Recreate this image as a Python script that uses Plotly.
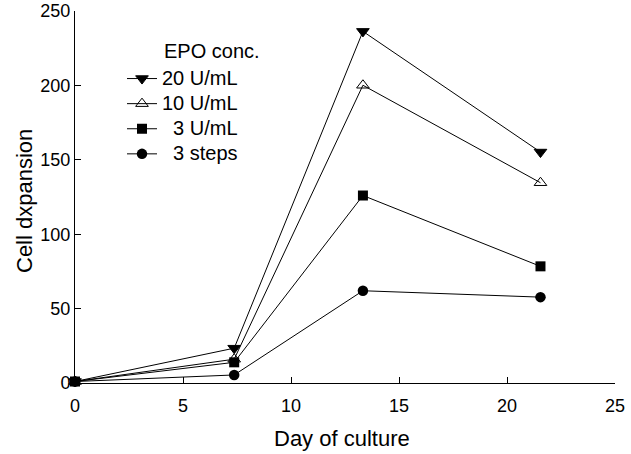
import plotly.graph_objects as go

days = [0, 7.37, 13.33, 21.55]
epo20 = [1, 23.4, 236.3, 155.2]
epo10 = [1, 16.0, 200.1, 134.6]
epo3 = [1, 13.9, 126.0, 78.4]
steps3 = [1, 5.4, 62.0, 57.7]

series_names = ["20 U/mL", "10 U/mL", "\u20073 U/mL", "\u20073 steps"]
x_ticks = [0, 5, 10, 15, 20, 25]
y_ticks = [0, 50, 100, 150, 200, 250]

FONT = "Liberation Sans, Arial, Helvetica, sans-serif"

styles = [
    dict(symbol="triangle-down", size=11, color="black", line=dict(color="black", width=1)),
    dict(symbol="triangle-up-open", size=11, color="black", line=dict(color="black", width=1)),
    dict(symbol="square", size=10, color="black", line=dict(color="black", width=0)),
    dict(symbol="circle", size=10.5, color="black", line=dict(color="black", width=0)),
]

fig = go.Figure()
for name, vals, mk in zip(series_names, [epo20, epo10, epo3, steps3], styles):
    fig.add_trace(go.Scatter(
        x=days, y=vals,
        name='<span style="font-size:20px">' + name + '</span>',
        mode="lines+markers",
        line=dict(color="black", width=1),
        marker=mk, cliponaxis=False,
    ))

W, H = 631, 454
ml, mr, mt, mb = 75, 16, 11, 71
pw, ph = W - ml - mr, H - mt - mb

def px_x(p):
    return (p - ml) / pw

def px_y(p):
    return (H - mb - p) / ph

fig.update_layout(
    width=W, height=H,
    margin=dict(l=ml, r=mr, t=mt, b=mb, pad=0, autoexpand=False),
    paper_bgcolor="white", plot_bgcolor="white",
    font=dict(family=FONT, size=18, color="black"),
    showlegend=True,
    legend=dict(
        x=px_x(122), y=px_y(61), xanchor="left", yanchor="top",
        bgcolor="rgba(0,0,0,0)", font=dict(size=17, family=FONT),
        tracegroupgap=0, itemwidth=30,
    ),
    xaxis=dict(
        range=[0, 25], tickvals=x_ticks, ticks="inside", ticklen=6,
        tickcolor="black", showline=True, linecolor="black", linewidth=1,
        showgrid=False, zeroline=False, tickfont=dict(size=18), automargin=False,
        ticklabelstandoff=6,
    ),
    yaxis=dict(
        range=[0, 250], tickvals=y_ticks, ticks="inside", ticklen=6,
        tickcolor="black", showline=True, linecolor="black", linewidth=1,
        showgrid=False, zeroline=False, tickfont=dict(size=18), automargin=False,
    ),
    annotations=[
        dict(text="EPO conc.", x=px_x(162), y=px_y(51), xref="paper", yref="paper",
             xanchor="left", yanchor="middle", showarrow=False, font=dict(size=20)),
        dict(text="Day of culture", x=px_x(342), y=px_y(438), xref="paper", yref="paper",
             xanchor="center", yanchor="middle", showarrow=False, font=dict(size=22)),
        dict(text="Cell dxpansion", x=px_x(24), y=px_y(201), xref="paper", yref="paper",
             xanchor="center", yanchor="middle", textangle=-90, showarrow=False,
             font=dict(size=22)),
    ],
)

fig.write_html("out.html", config={"displayModeBar": False},
               post_script="document.body.style.margin='0px';")
